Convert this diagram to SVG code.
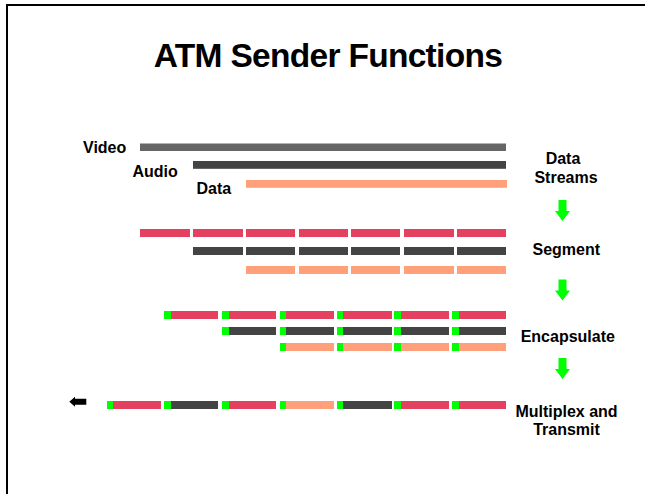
<svg xmlns="http://www.w3.org/2000/svg" width="645" height="494" viewBox="0 0 645 494">
  <style>
    .t { font-family: "Liberation Sans", Arial, sans-serif; font-weight: bold; fill: #000; }
    .lbl { font-size: 16px; }
    .r { text-anchor: middle; }
    .vid { fill: #666666; }
    .red { fill: #E44060; }
    .dk { fill: #444444; }
    .sal { fill: #FFA07A; }
    .hdr { fill: #00FF00; }
  </style>
  <defs>
    <polygon id="down" points="-4,0 4,0 4,11 7.5,11 0,21 -7.5,11 -4,11" fill="#00FF00"/>
  </defs>
  <rect width="645" height="494" fill="#fff"/>
  <path d="M7,494 V5 H645" fill="none" stroke="#000" stroke-width="2"/>

  <text id="title" class="t r" x="328" y="67.3" font-size="33.5" letter-spacing="-0.7">ATM Sender Functions</text>

  <!-- continuous streams -->
  <g id="streams">
    <text class="t lbl" x="83" y="152.5">Video</text>
    <rect class="vid" x="140" y="143.5" width="366" height="7.5"/>
    <text class="t lbl" x="132.5" y="176.5">Audio</text>
    <rect class="dk" x="193" y="161" width="313" height="7.8"/>
    <text class="t lbl" x="196.5" y="194.3">Data</text>
    <rect class="sal" x="246" y="180" width="261" height="7.8"/>
  </g>

  <!-- segmented streams -->
  <g id="segments">
    <rect class="red" x="140" y="229" width="50" height="8"/>
    <rect class="red" x="193" y="229" width="50" height="8"/>
    <rect class="red" x="246" y="229" width="49" height="8"/>
    <rect class="red" x="299" y="229" width="49" height="8"/>
    <rect class="red" x="351" y="229" width="49" height="8"/>
    <rect class="red" x="404" y="229" width="50" height="8"/>
    <rect class="red" x="457" y="229" width="49" height="8"/>

    <rect class="dk" x="193" y="247" width="50" height="8"/>
    <rect class="dk" x="246" y="247" width="49" height="8"/>
    <rect class="dk" x="299" y="247" width="49" height="8"/>
    <rect class="dk" x="351" y="247" width="49" height="8"/>
    <rect class="dk" x="404" y="247" width="50" height="8"/>
    <rect class="dk" x="457" y="247" width="49" height="8"/>

    <rect class="sal" x="246" y="266" width="49" height="8"/>
    <rect class="sal" x="299" y="266" width="49" height="8"/>
    <rect class="sal" x="351" y="266" width="49" height="8"/>
    <rect class="sal" x="404" y="266" width="50" height="8"/>
    <rect class="sal" x="457" y="266" width="49" height="8"/>
  </g>

  <!-- cells: green header + payload -->
  <g id="cells">
    <rect class="hdr" x="164" y="311" width="7" height="8"/><rect class="red" x="171" y="311" width="47" height="8"/>
    <rect class="hdr" x="222" y="311" width="7" height="8"/><rect class="red" x="229" y="311" width="47" height="8"/>
    <rect class="hdr" x="280" y="311" width="6" height="8"/><rect class="red" x="286" y="311" width="48" height="8"/>
    <rect class="hdr" x="337" y="311" width="6" height="8"/><rect class="red" x="343" y="311" width="49" height="8"/>
    <rect class="hdr" x="394" y="311" width="7" height="8"/><rect class="red" x="401" y="311" width="48" height="8"/>
    <rect class="hdr" x="452" y="311" width="7" height="8"/><rect class="red" x="459" y="311" width="47" height="8"/>

    <rect class="hdr" x="222" y="327" width="7" height="8"/><rect class="dk" x="229" y="327" width="47" height="8"/>
    <rect class="hdr" x="280" y="327" width="6" height="8"/><rect class="dk" x="286" y="327" width="48" height="8"/>
    <rect class="hdr" x="337" y="327" width="6" height="8"/><rect class="dk" x="343" y="327" width="49" height="8"/>
    <rect class="hdr" x="394" y="327" width="7" height="8"/><rect class="dk" x="401" y="327" width="48" height="8"/>
    <rect class="hdr" x="452" y="327" width="7" height="8"/><rect class="dk" x="459" y="327" width="47" height="8"/>

    <rect class="hdr" x="280" y="343" width="6" height="8"/><rect class="sal" x="286" y="343" width="48" height="8"/>
    <rect class="hdr" x="337" y="343" width="6" height="8"/><rect class="sal" x="343" y="343" width="49" height="8"/>
    <rect class="hdr" x="394" y="343" width="7" height="8"/><rect class="sal" x="401" y="343" width="48" height="8"/>
    <rect class="hdr" x="452" y="343" width="7" height="8"/><rect class="sal" x="459" y="343" width="47" height="8"/>
  </g>

  <!-- multiplexed cell stream -->
  <g id="multiplex">
    <rect class="hdr" x="107" y="401" width="6" height="8"/><rect class="red" x="113" y="401" width="48" height="8"/>
    <rect class="hdr" x="164" y="401" width="7" height="8"/><rect class="dk" x="171" y="401" width="47" height="8"/>
    <rect class="hdr" x="222" y="401" width="7" height="8"/><rect class="red" x="229" y="401" width="47" height="8"/>
    <rect class="hdr" x="280" y="401" width="6" height="8"/><rect class="sal" x="286" y="401" width="48" height="8"/>
    <rect class="hdr" x="337" y="401" width="6" height="8"/><rect class="dk" x="343" y="401" width="49" height="8"/>
    <rect class="hdr" x="394" y="401" width="7" height="8"/><rect class="red" x="401" y="401" width="48" height="8"/>
    <rect class="hdr" x="452" y="401" width="7" height="8"/><rect class="red" x="459" y="401" width="47" height="8"/>
  </g>

  <!-- step labels -->
  <g id="steps">
    <text class="t lbl r" x="563" y="164.3">Data</text>
    <text class="t lbl r" x="566" y="183.3">Streams</text>
    <text class="t lbl r" x="566.3" y="254.8">Segment</text>
    <text class="t lbl r" x="567.8" y="342">Encapsulate</text>
    <text class="t lbl r" x="566.5" y="416.5">Multiplex and</text>
    <text class="t lbl r" x="566.5" y="435">Transmit</text>
  </g>

  <!-- step arrows -->
  <g id="connectors">
    <use href="#down" x="562.5" y="200"/>
    <use href="#down" x="562.5" y="279.5"/>
    <use href="#down" x="562.5" y="358"/>
    <polygon points="69.3,401.7 75,396.7 75,398.7 86.3,398.7 86.3,404.7 75,404.7 75,406.7" fill="#000"/>
  </g>
</svg>
